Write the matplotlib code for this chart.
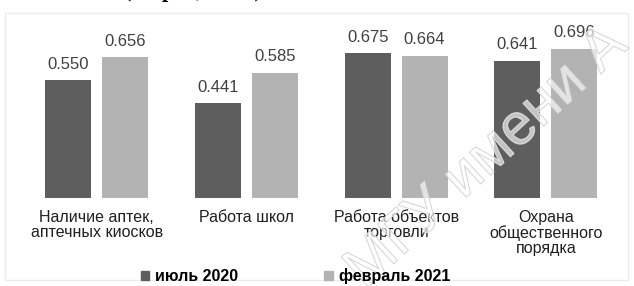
import numpy as np
import matplotlib
matplotlib.use('Agg')
import matplotlib.pyplot as plt
from matplotlib.patches import Patch, Rectangle
import matplotlib.patheffects as pe

plt.rcParams['font.family'] = ['Liberation Sans', 'DejaVu Sans']

categories = ['Наличие аптек,\nаптечных киосков', 'Работа школ',
              'Работа объектов\nторговли', 'Охрана\nобщественного\nпорядка']
july_2020 = [0.550, 0.441, 0.675, 0.641]
feb_2021 = [0.656, 0.585, 0.664, 0.696]
series_names = ['июль 2020', 'февраль 2021']

dark = '#5e5e5e'
light = '#b3b3b3'

fig = plt.figure(figsize=(6.34, 2.86), dpi=100)
ax = fig.add_axes([0.0342, 0.3077, 0.945, 0.60])

x = np.arange(len(categories))
w = 0.307
off = 0.19
b1 = ax.bar(x - off, july_2020, w, color=dark)
b2 = ax.bar(x + off, feb_2021, w, color=light)

for bars, vals in ((b1, july_2020), (b2, feb_2021)):
    for r, v in zip(bars, vals):
        ax.annotate('%.3f' % v, (r.get_x() + r.get_width() / 2, v),
                    xytext=(0, 6), textcoords='offset points',
                    ha='center', va='bottom', fontsize=12, color='#404040')

ax.set_xlim(-0.5, 3.5)
ax.set_ylim(0, 0.8)
ax.set_yticks([])
ax.set_xticks(x)
ax.set_xticklabels(categories, fontsize=11.5, color='#202020', linespacing=1.0,
                   va='top')
ax.tick_params(axis='x', length=0, pad=9)
for s in ax.spines.values():
    s.set_visible(False)

handles = [Patch(color=dark), Patch(color=light)]
fig.legend(handles, series_names, loc='center', bbox_to_anchor=(0.466, 0.035),
           ncol=2, frameon=False, handlelength=0.55, handleheight=0.55,
           handletextpad=0.35, columnspacing=5.4,
           prop={'weight': 'bold', 'size': 11.5})

# faint frame of the original chart
fig.patches.append(Rectangle((5 / 634, 0.02), 623 / 634, 1 - 13 / 286 - 0.02,
                             transform=fig.transFigure, fill=False,
                             edgecolor='#ececec', lw=1.0))

# cut-off caption at top (only the bottoms of the glyphs show)
fig.text(0.305, 1 + 3 / 286, '(в процентах)', ha='center', va='baseline',
         family='Liberation Serif', fontsize=16, weight='bold')

# watermark
fig.text(365 / 634, 1 - 290 / 286, 'МГУ имени А', fontsize=42,
         rotation=42.5, rotation_mode='anchor', ha='left', va='baseline',
         color=(1, 1, 1, 0.4),
         path_effects=[pe.withStroke(linewidth=0.8, foreground='#cfcfcf')])

fig.savefig('out.png', dpi=100)
